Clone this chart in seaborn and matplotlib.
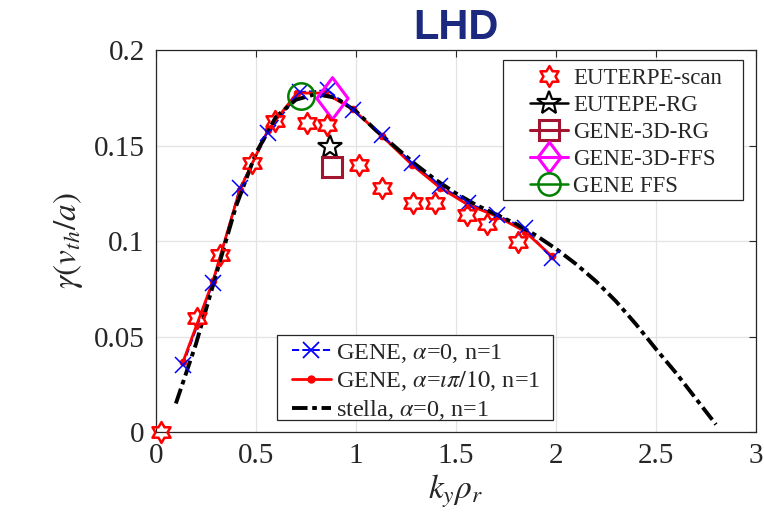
import numpy as np
import pandas as pd
import matplotlib
matplotlib.use("Agg")
import matplotlib.pyplot as plt
import seaborn as sns
from matplotlib.path import Path
from matplotlib.lines import Line2D
from matplotlib.patches import Rectangle

# ---------------- data ----------------
gene0_k = [0.135, 0.285, 0.42, 0.56, 0.72, 0.86, 0.985, 1.13, 1.28, 1.42, 1.56, 1.705, 1.845, 1.98]
gene0_g = [0.035, 0.078, 0.128, 0.1565, 0.178, 0.179, 0.1686, 0.1555, 0.141, 0.129, 0.120, 0.1136, 0.1068, 0.091]

genei_k = [0.135, 0.285, 0.42, 0.56, 0.705, 0.845, 0.985, 1.13, 1.28, 1.42, 1.56, 1.705, 1.845, 1.98]
genei_g = [0.0366, 0.079, 0.127, 0.158, 0.1775, 0.1775, 0.169, 0.155, 0.140, 0.128, 0.119, 0.113, 0.105, 0.092]

stella_k = [0.1, 0.2, 0.3, 0.4, 0.5, 0.6, 0.7, 0.8, 0.9, 1.0, 1.1, 1.2, 1.3, 1.4, 1.5,
            1.6, 1.7, 1.8, 1.9, 2.0, 2.1, 2.2, 2.3, 2.4, 2.5, 2.6, 2.7, 2.8]
stella_g = [0.015, 0.046, 0.082, 0.118, 0.146, 0.165, 0.174, 0.177, 0.175, 0.168, 0.158, 0.149,
            0.140, 0.132, 0.125, 0.119, 0.114, 0.109, 0.103, 0.096, 0.088, 0.079, 0.0685, 0.0565,
            0.0435, 0.031, 0.0175, 0.004]

scan_k = [0.025, 0.205, 0.32, 0.48, 0.595, 0.755, 0.855, 1.015, 1.13, 1.285, 1.395, 1.555, 1.655, 1.81]
scan_g = [0.0, 0.060, 0.0927, 0.141, 0.163, 0.162, 0.161, 0.140, 0.128, 0.120, 0.120, 0.1136, 0.109, 0.0995]

eut_rg = (0.87, 0.149)
gene3d_rg = (0.88, 0.1387)
gene3d_ffs = (0.88, 0.175)
gene_ffs = (0.725, 0.176)

xticks = [0, 0.5, 1, 1.5, 2, 2.5, 3]
xtick_labels = ["0", "0.5", "1", "1.5", "2", "2.5", "3"]
yticks = [0, 0.05, 0.1, 0.15, 0.2]
ytick_labels = ["0", "0.05", "0.1", "0.15", "0.2"]

legend1_labels = ["EUTERPE-scan", "EUTEPE-RG", "GENE-3D-RG", "GENE-3D-FFS", "GENE FFS"]
legend2_labels = [r"GENE, $\alpha$=0, n=1", r"GENE, $\alpha$=$\iota\pi/10$, n=1",
                  r"stella, $\alpha$=0, n=1"]

# ---------------- style ----------------
sns.set_style("white")
plt.rcParams["font.family"] = ["Liberation Serif", "DejaVu Serif"]
plt.rcParams["mathtext.fontset"] = "stix"

# hexagram marker
ang_o = np.deg2rad(90 + 60 * np.arange(6))
ang_i = np.deg2rad(120 + 60 * np.arange(6))
ri = 1 / np.sqrt(3)
verts = []
for ao, ai in zip(ang_o, ang_i):
    verts.append((np.cos(ao), np.sin(ao)))
    verts.append((ri * np.cos(ai), ri * np.sin(ai)))
verts.append(verts[0])
hexagram = Path(verts, closed=True)

# diamond (taller than wide)
diamond = Path([(0, 1), (0.75, 0), (0, -1), (-0.75, 0), (0, 1)], closed=True)

fig, ax = plt.subplots(figsize=(7.64, 5.27), dpi=100)
fig.subplots_adjust(left=0.204, right=0.9895, bottom=0.180, top=0.905)

maroon = "#a2142f"
magenta = "#ff00ff"
green = "#008000"
blue = "#0000ff"
red = "#ff0000"
dashdot = (0, (4, 1.2, 1.2, 1.2))

sns.lineplot(x=gene0_k, y=gene0_g, ax=ax, color=blue, lw=1.4, linestyle="--", label="_g0")
sns.lineplot(x=genei_k, y=genei_g, ax=ax, color=red, lw=2.0, linestyle="-",
             marker="o", ms=5, mec=red, mfc=red, mew=0.5, label="_gi")
sns.lineplot(x=stella_k, y=stella_g, ax=ax, color="black", lw=2.8,
             linestyle=dashdot, label="_st")
sns.lineplot(x=gene0_k, y=gene0_g, ax=ax, color=blue, linestyle="none",
             marker="x", ms=12, mec=blue, mew=1.1, label="_g0m")

sns.lineplot(x=scan_k, y=scan_g, ax=ax, linestyle="none", marker=hexagram, ms=15,
             mfc="none", mec=red, mew=1.8, label="_scan", clip_on=False, zorder=3)
sns.lineplot(x=[eut_rg[0]], y=[eut_rg[1]], ax=ax, linestyle="none", marker="*", ms=18,
             mfc="none", mec="black", mew=1.6, label="_erg")
sns.lineplot(x=[gene3d_rg[0]], y=[gene3d_rg[1]], ax=ax, linestyle="none", marker="s", ms=14,
             mfc="none", mec=maroon, mew=2.2, label="_grg")
sns.lineplot(x=[gene3d_ffs[0]], y=[gene3d_ffs[1]], ax=ax, linestyle="none", marker=diamond, ms=30,
             mfc="none", mec=magenta, mew=2.2, label="_gffs")
sns.lineplot(x=[gene_ffs[0]], y=[gene_ffs[1]], ax=ax, linestyle="none", marker="o", ms=19,
             mfc="none", mec=green, mew=1.8, label="_ffs")

ax.set_xlim(0, 3)
ax.set_ylim(0, 0.2)
ax.set_xticks(xticks)
ax.set_xticklabels(xtick_labels)
ax.set_yticks(yticks)
ax.set_yticklabels(ytick_labels)
ax.grid(True, color="#e3e3e3", lw=0.9)
ax.set_axisbelow(True)
ax.tick_params(direction="in", top=True, right=True, length=5, width=0.8,
               labelsize=21, colors="#262626", pad=8)
for sp in ax.spines.values():
    sp.set_color("#262626")
    sp.set_linewidth(0.9)

ax.set_xlabel(r"$k_y\rho_r$", fontsize=24, labelpad=2)
ax.set_ylabel(r"$\gamma(v_{th}/a)$", fontsize=24, labelpad=6)
ax.set_title("LHD", fontsize=30, fontweight="bold", color="#1b2a7f",
             family="Liberation Sans", pad=8)

# legend frames (drawn as rectangles in axes coordinates)
for (x0, y0, x1, y1) in [(0.578, 0.607, 0.978, 0.974), (0.2017, 0.0314, 0.6617, 0.254)]:
    ax.add_patch(Rectangle((x0, y0), x1 - x0, y1 - y0, transform=ax.transAxes,
                           facecolor="white", edgecolor="#262626", lw=0.9, zorder=4.9,
                           clip_on=False))

h1 = [
    Line2D([], [], linestyle="none", marker=hexagram, ms=15, mfc="none", mec=red, mew=1.8),
    Line2D([], [], color="black", lw=1.8, marker="*", ms=18, mfc="none", mec="black", mew=1.6),
    Line2D([], [], color=maroon, lw=2.2, marker="s", ms=14, mfc="none", mec=maroon, mew=2.2),
    Line2D([], [], color=magenta, lw=2.2, marker=diamond, ms=22, mfc="none", mec=magenta, mew=2.2),
    Line2D([], [], color=green, lw=1.8, marker="o", ms=16, mfc="none", mec=green, mew=1.8),
]
leg1 = ax.legend(h1, legend1_labels, loc="upper left", bbox_to_anchor=(0.6233, 0.952),
                 fontsize=16.5, frameon=False, handlelength=1.66, handletextpad=0.22,
                 labelspacing=0.26, borderpad=0, borderaxespad=0)
ax.add_artist(leg1)

h2 = [
    Line2D([], [], color=blue, lw=1.4, linestyle="--", marker="x", ms=11, mec=blue, mew=1.3),
    Line2D([], [], color=red, lw=2.0, marker="o", ms=5, mec=red, mfc=red),
    Line2D([], [], color="black", lw=2.8, linestyle=dashdot),
]
leg2 = ax.legend(h2, legend2_labels, loc="upper left", bbox_to_anchor=(0.2267, 0.237),
                 fontsize=17.5, frameon=False, handlelength=1.6, handletextpad=0.22,
                 labelspacing=0.2, borderpad=0, borderaxespad=0)

fig.savefig("out.png", dpi=100)
